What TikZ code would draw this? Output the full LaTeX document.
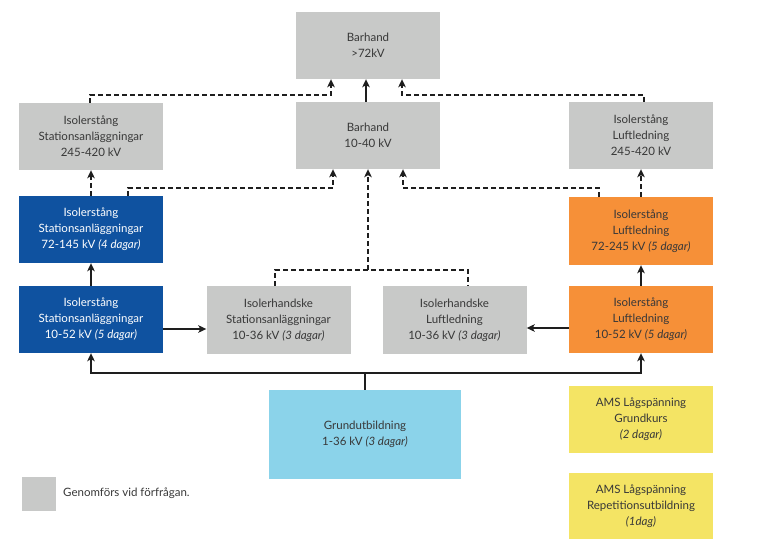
\documentclass[tikz,border=0pt]{standalone}
\usepackage{fontspec}
\setmainfont{Lato}
\usetikzlibrary{arrows.meta,calc}
\definecolor{gbox}{HTML}{C8C9C8}
\definecolor{bbox}{HTML}{0F52A0}
\definecolor{obox}{HTML}{F69038}
\definecolor{lbox}{HTML}{8BD3EA}
\definecolor{ybox}{HTML}{F4E464}
\definecolor{txt}{HTML}{383838}
\definecolor{ln}{HTML}{1E1E1E}
\begin{document}
\begin{tikzpicture}[x=1pt,y=-1pt,
  box/.style={minimum width=144pt,minimum height=67pt,inner sep=0pt,align=center,
    font=\fontsize{11.5}{16}\selectfont,text=txt},
  gb/.style={box,fill=gbox},
  bb/.style={box,fill=bbox,text=white},
  ob/.style={box,fill=obox},
  yb/.style={box,fill=ybox},
  sol/.style={draw=ln,line width=2pt},
  arr/.style={sol,-{Stealth[length=8pt,width=7.5pt,inset=2pt]}},
  dsh/.style={draw=ln,line width=2pt,dash pattern=on 5pt off 3pt},
  darr/.style={dsh,-{Stealth[length=8pt,width=7.5pt,inset=2pt]}}
]
\useasboundingbox (0,0) rectangle (758,556);
% boxes
\node[gb] (bar72) at (368,45.5) {Barhand\\>72kV};
\node[gb] (isoS245) at (91,136.5) {Isolerstång\\Stationsanläggningar\\245-420 kV};
\node[gb] (bar10) at (368,135.5) {Barhand\\10-40 kV};
\node[gb] (isoL245) at (641,135.5) {Isolerstång\\Luftledning\\245-420 kV};
\node[bb] (blue72) at (91,229.5) {Isolerstång\\Stationsanläggningar\\72-145 kV \textit{(4 dagar)}};
\node[ob,minimum height=68pt] (or72) at (641,231) {Isolerstång\\Luftledning\\72-245 kV \textit{(5 dagar)}};
\node[bb] (blue10) at (91,319.5) {Isolerstång\\Stationsanläggningar\\10-52 kV \textit{(5 dagar)}};
\node[gb,minimum height=68pt] (ihS) at (278.5,320) {Isolerhandske\\Stationsanläggningar\\10-36 kV \textit{(3 dagar)}};
\node[gb,minimum height=68pt] (ihL) at (454.5,320) {Isolerhandske\\Luftledning\\10-36 kV \textit{(3 dagar)}};
\node[ob] (or10) at (641,319.5) {Isolerstång\\Luftledning\\10-52 kV \textit{(5 dagar)}};
\node[box,fill=lbox,minimum width=192pt,minimum height=89pt] (grund) at (365,434.5) {Grundutbildning\\1-36 kV \textit{(3 dagar)}};
\node[yb] (y1) at (641,419.5) {AMS Lågspänning\\Grundkurs\\\textit{(2 dagar)}};
\node[yb,minimum height=66pt] (y2) at (641,506) {AMS Lågspänning\\Repetitionsutbildning\\\textit{(1dag)}};
% legend
\node[fill=gbox,minimum size=34pt,inner sep=0pt] (leg) at (39,494) {};
\node[anchor=west,inner sep=0pt,text=txt,font=\fontsize{11.5}{16}\selectfont] (legt) at (63,493) {Genomförs vid förfrågan.};
% solid connectors
\draw[sol] (grund.north) -- ++(0,-17) coordinate (j);
\draw[arr] (j) -| (blue10.south);
\draw[arr] (j) -| (or10.south);
\draw[arr] ([yshift=-9.5pt]blue10.east) -- ([yshift=-9.5pt]blue10.east -| ihS.west);
\draw[arr] ([yshift=-8.5pt]or10.west) -- ([yshift=-8.5pt]or10.west -| ihL.east);
\draw[arr] (blue10.north) -- (blue72.south);
\draw[arr] (or10.north) -- (or72.south);
\draw[arr] ([xshift=-2pt]bar10.north) -- ([xshift=-2pt]bar72.south);
% dashed connectors
\draw[darr] (blue72.north) -- (isoS245.south);
\draw[darr] (or72.north) -- (isoL245.south);
\draw[darr] ([xshift=37pt]blue72.north) -- ++(0,-8) -| ([xshift=-35pt]bar10.south);
\draw[darr] ([xshift=-42pt]or72.north) -- ++(0,-9) -| ([xshift=35pt]bar10.south);
\draw[dsh] ([xshift=-3.5pt]ihS.north) -- ++(0,-16) -| ([xshift=13.5pt]ihL.north);
\coordinate (m) at (368,270);
\draw[darr] (m) -- (bar10.south);
\draw[darr] ([xshift=-1pt]isoS245.north) -- ++(0,-8) -| ([xshift=-37pt]bar72.south);
\draw[darr] ([xshift=3pt]isoL245.north) -- ++(0,-7) -| ([xshift=34pt]bar72.south);
\end{tikzpicture}
\end{document}
